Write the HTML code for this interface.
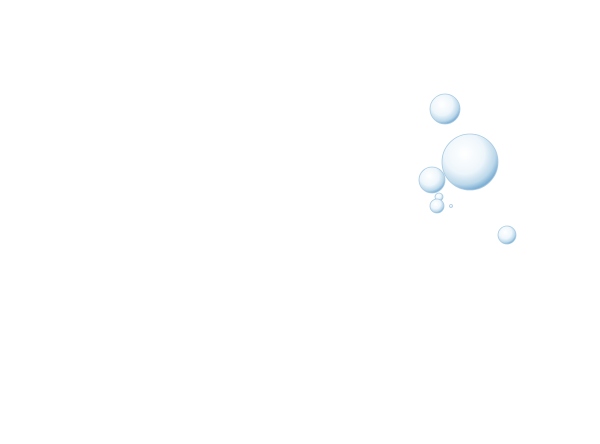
<!DOCTYPE html>
<html><head><meta charset="utf-8"><style>
html,body{margin:0;padding:0;background:#fff;width:600px;height:444px;overflow:hidden}
</style></head><body>
<svg width="600" height="444" xmlns="http://www.w3.org/2000/svg">
<defs>
<radialGradient id="b" cx="0.4" cy="0.35" r="0.65">
<stop offset="0" stop-color="#ffffff"/>
<stop offset="0.55" stop-color="#eef6fb"/>
<stop offset="0.85" stop-color="#bcd8ea"/>
<stop offset="1" stop-color="#7fb0d4"/>
</radialGradient>
</defs>
<g stroke="#a9cbe3" stroke-width="0.8" fill="url(#b)">
<circle cx="445" cy="109" r="15"/>
<circle cx="470" cy="162" r="28"/>
<circle cx="432" cy="180" r="13"/>
<circle cx="439" cy="197" r="4"/>
<circle cx="437" cy="206" r="7"/>
<circle cx="507" cy="235" r="9"/>
<circle cx="451" cy="206" r="1.5"/>
</g>
</svg>
</body></html>
